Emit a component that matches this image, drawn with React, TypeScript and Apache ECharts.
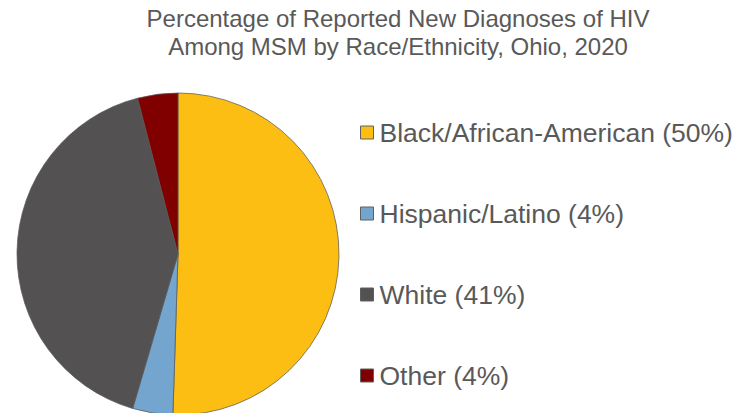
import React, { useEffect, useRef } from "react";
import * as echarts from "echarts";

const categories = ["Black/African-American", "Hispanic/Latino", "White", "Other"];
const percentages = [50, 4, 41, 4];
const colors = ["#FDBE13", "#74A5CE", "#535151", "#800000"];
const titleText = "Percentage of Reported New Diagnoses of HIV\nAmong MSM by Race/Ethnicity, Ohio, 2020";

export default function App() {
  const ref = useRef<HTMLDivElement>(null);
  useEffect(() => {
    if (!ref.current) return;
    const chart = echarts.init(ref.current, undefined, { renderer: "svg" });
    const font = "'Liberation Sans', Arial, sans-serif";
    chart.setOption({
      animation: false,
      backgroundColor: "#ffffff",
      title: {
        text: titleText,
        left: 398,
        top: 4,
        textAlign: "center",
        padding: 0,
        textStyle: {
          fontFamily: font,
          fontSize: 24,
          fontWeight: "normal",
          color: "#595959",
          lineHeight: 28,
        },
      },
      legend: {
        orient: "vertical",
        left: 360,
        top: 119,
        padding: 0,
        itemWidth: 13,
        itemHeight: 13,
        itemGap: 54,
        icon: "rect",
        selectedMode: false,
        data: categories,
        formatter: (name: string) => {
          const i = categories.indexOf(name);
          return `${name} (${percentages[i]}%)`;
        },
        itemStyle: { borderColor: "#606060", borderWidth: 1 },
        textStyle: {
          fontFamily: font,
          fontSize: 26.5,
          color: "#595959",
          lineHeight: 26,
          padding: [0, 0, 0, 1],
        },
      },
      series: [
        {
          type: "pie",
          center: [178, 254],
          radius: 161,
          startAngle: 90,
          clockwise: true,
          label: { show: false },
          labelLine: { show: false },
          emphasis: { disabled: true },
          itemStyle: { borderColor: "#5a5a5a", borderWidth: 0.75 },
          data: categories.map((name, i) => ({
            name,
            value: percentages[i],
            itemStyle: { color: colors[i] },
          })),
        },
      ],
    });
    return () => chart.dispose();
  }, []);
  return (
    <div
      ref={ref}
      style={{ position: "fixed", left: 0, top: 0, width: 749, height: 413 }}
    />
  );
}
